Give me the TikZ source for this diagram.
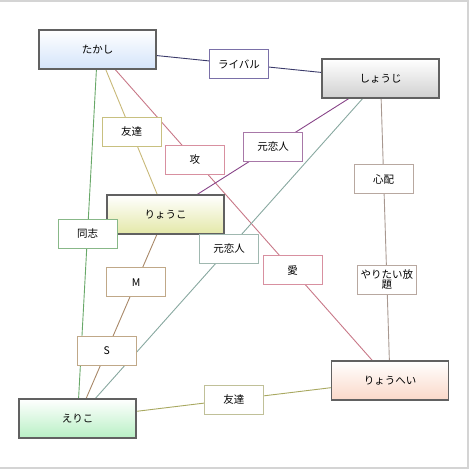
\documentclass[tikz,border=0pt]{standalone}
\usepackage{fontspec}
\setmainfont{Noto Sans CJK JP}
\usetikzlibrary{calc,backgrounds}
\definecolor{cRiv}{HTML}{3A3A6A}\definecolor{bRiv}{HTML}{7A70A8}
\definecolor{cTomoA}{HTML}{C8B878}\definecolor{bTomoA}{HTML}{C8C080}
\definecolor{cAi}{HTML}{C87888}\definecolor{bAi}{HTML}{D890A0}
\definecolor{cMotoA}{HTML}{884488}\definecolor{bMotoA}{HTML}{A878A8}
\definecolor{cMotoB}{HTML}{88A8A0}\definecolor{bMotoB}{HTML}{A0B8B0}
\definecolor{cShin}{HTML}{A89890}\definecolor{bShin}{HTML}{B8A8A0}
\definecolor{cDou}{HTML}{68A868}\definecolor{bDou}{HTML}{88B888}
\definecolor{cMS}{HTML}{A88868}\definecolor{bMS}{HTML}{C0A888}
\definecolor{cTomoB}{HTML}{A8A860}\definecolor{bTomoB}{HTML}{C0C098}
\definecolor{gTak}{HTML}{D4E4FA}\definecolor{gSho}{HTML}{D0D0D0}
\definecolor{gRyk}{HTML}{E4E8A8}\definecolor{gEri}{HTML}{B8F0C4}
\definecolor{gRyh}{HTML}{FAD8C8}\definecolor{frameC}{HTML}{D4D4D4}
\tikzset{
  person/.style={draw=black!62,line width=1.3pt,minimum width=117pt,minimum height=39pt,inner sep=0pt,top color=white,font=\fontsize{10.5}{12}\selectfont},
  rel/.style={draw=#1,fill=white,line width=0.9pt,minimum width=59pt,minimum height=29pt,inner sep=0pt,align=center,font=\fontsize{10.5}{11}\selectfont},
  link/.style={draw=#1,line width=0.9pt}
}
\begin{document}
\begin{tikzpicture}[x=1pt,y=-1pt]
\useasboundingbox (0,0) rectangle (470,470);
\draw[frameC,line width=2pt] (0,1) -- (468,1) -- (468,468) -- (0,468);
% persons
\node[person,bottom color=gTak] (tak) at (97.5,49.5) {たかし};
\node[person,bottom color=gSho] (sho) at (380.5,78.5) {しょうじ};
\node[person,bottom color=gRyk] (ryk) at (165.5,214.5) {りょうこ};
\node[person,bottom color=gEri] (eri) at (77.5,418.5) {えりこ};
\node[person,bottom color=gRyh] (ryh) at (390,380.5) {りょうへい};
% relation labels
\node[rel=bRiv] (riv) at ($(tak)!.5!(sho)$) {ライバル};
\node[rel=bTomoA] (tomoA) at ($(tak)!.5!(ryk)$) {友達};
\node[rel=bAi] (seme) at ($(tak)!.333!(ryh)$) {攻};
\node[rel=bAi] (ai) at ($(tak)!.667!(ryh)$) {愛};
\node[rel=bMotoA] (motoA) at ($(sho)!.5!(ryk)$) {元恋人};
\node[rel=bMotoB] (motoB) at ($(sho)!.5!(eri)$) {元恋人};
\node[rel=bShin] (shin) at ($(sho)!.333!(ryh)$) {心配};
\node[rel=bShin] (yari) at ($(sho)!.667!(ryh)$) {やりたい放\\[-1pt]題};
\node[rel=bDou] (dou) at ($(tak)!.5!(eri)$) {同志};
\node[rel=bMS] (mm) at ($(ryk)!.333!(eri)$) {M};
\node[rel=bMS] (ss) at ($(ryk)!.667!(eri)$) {S};
\node[rel=bTomoB] (tomoB) at ($(eri)!.5!(ryh)$) {友達};
% connectors behind
\begin{pgfonlayer}{background}
\draw[link=cRiv] (tak.center) -- (riv.center) -- (sho.center);
\draw[link=cTomoA] (tak.center) -- (tomoA.center) -- (ryk.center);
\draw[link=cAi] (tak.center) -- (seme.center) -- (ai.center) -- (ryh.center);
\draw[link=cMotoA] (sho.center) -- (motoA.center) -- (ryk.center);
\draw[link=cMotoB] (sho.center) -- (motoB.center) -- (eri.center);
\draw[link=cShin] (sho.center) -- (shin.center) -- (yari.center) -- (ryh.center);
\draw[link=cDou] (tak.center) -- (dou.center) -- (eri.center);
\draw[link=cMS] (ryk.center) -- (mm.center) -- (ss.center) -- (eri.center);
\draw[link=cTomoB] (eri.center) -- (tomoB.center) -- (ryh.center);
\end{pgfonlayer}
\end{tikzpicture}
\end{document}
